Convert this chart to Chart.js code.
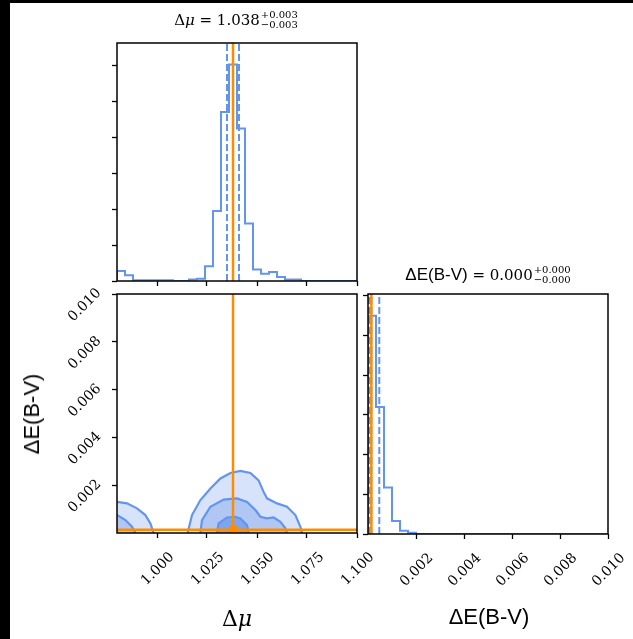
<!DOCTYPE html>
<html>
<head>
<meta charset="utf-8">
<script src="https://cdn.jsdelivr.net/npm/chart.js@4.4.0/dist/chart.umd.min.js"></script>
<style>
html, body { margin: 0; padding: 0; background: #fff; }
body { width: 633px; height: 639px; position: relative; overflow: hidden; }
.strip-top { position: absolute; left: 0; top: 0; width: 633px; height: 3px; background: #000; }
.strip-left { position: absolute; left: 0; top: 0; width: 10px; height: 639px; background: #000; }
canvas.layer { position: absolute; left: 0; top: 0; }
.ttl { position: absolute; transform: translateX(-50%); white-space: nowrap; display: flex; align-items: center;
       font-family: 'DejaVu Serif', serif; font-size: 15px; color: #000; }
.ttl .pm { display: inline-flex; flex-direction: column; font-size: 10px; line-height: 10px; margin-left: 1px; }
.sans { font-family: 'Liberation Sans', sans-serif; }
.lbl { position: absolute; white-space: nowrap; color: #000; transform: translate(-50%, -50%); }
.lbl.serif { font-family: 'DejaVu Serif', serif; font-size: 22px; }
.lbl.sans { font-family: 'Liberation Sans', sans-serif; font-size: 22px; }
.lbl.rot { transform: translate(-50%, -50%) rotate(-90deg); }
</style>
</head>
<body>
<div class="strip-top"></div>
<div class="strip-left"></div>

<canvas id="cMu" class="layer" width="633" height="639"></canvas>
<canvas id="c2d" class="layer" width="633" height="639"></canvas>
<canvas id="cEbv" class="layer" width="633" height="639"></canvas>

<div class="ttl" style="left:236px; top:10px;"><span>Δ<i>μ</i> = 1.038</span><span class="pm"><span>+0.003</span><span>−0.003</span></span></div>
<div class="ttl" style="left:488px; top:265px;"><span><span class="sans" style="font-size:17px">ΔE(B-V)</span> = 0.000</span><span class="pm"><span>+0.000</span><span>−0.000</span></span></div>

<div class="lbl serif" style="left:237px; top:618px;">Δ<i>μ</i></div>
<div class="lbl sans" style="left:489px; top:617px;">ΔE(B-V)</div>
<div class="lbl sans rot" style="left:32px; top:414px;">ΔE(B-V)</div>

<script>
// Données
const MU_RANGE = [0.98, 1.10];
const EBV_RANGE = [0, 0.010];

// histogramme de Δμ (30 classes)
const MU_HIST = [0.28, 0.16, 0.02, 0.02, 0.02, 0.02, 0.02, 0, 0, 0.04,
                 0.065, 0.41, 1.95, 4.70, 6.02, 4.24, 1.60, 0.32, 0.20, 0.25,
                 0.11, 0.04, 0.04, 0, 0, 0, 0, 0, 0, 0];
// histogramme de ΔE(B-V) (30 classes)
const EBV_HIST = [5.5, 3.2, 1.17, 0.33, 0.08, 0.03, 0, 0, 0, 0,
                  0, 0, 0, 0, 0, 0, 0, 0, 0, 0,
                  0, 0, 0, 0, 0, 0, 0, 0, 0, 0];

const MU_TICKS = [1.000, 1.025, 1.050, 1.075, 1.100];
const EBV_TICKS = [0.002, 0.004, 0.006, 0.008, 0.010];
const DENS_TICKS = [0, 1, 2, 3, 4, 5, 6];

const MU_QUANTILES = [1.035, 1.038, 1.041];
const EBV_QUANTILES = [0.00005, 0.00014, 0.00047];
const TRUTH_MU = 1.038;
const TRUTH_EBV = 0.00014;

// contours 2D (x = Δμ, y = ΔE(B-V))
const CONT_OUTER_R = [[1.0153, 0], [1.0175, 0.00075], [1.0217, 0.00138], [1.0267, 0.00186], [1.0317, 0.00228],
  [1.0367, 0.00251], [1.0417, 0.0026], [1.0467, 0.00251], [1.0508, 0.0022], [1.0533, 0.00172],
  [1.055, 0.00145], [1.06, 0.00124], [1.065, 0.0011], [1.0692, 0.00075], [1.0717, 0.00026], [1.0725, 0]];
const CONT_MID_R = [[1.0217, 0], [1.0225, 0.00054], [1.0267, 0.0011], [1.0333, 0.0014], [1.04, 0.00145],
  [1.045, 0.0013], [1.0492, 0.00096], [1.0517, 0.00068], [1.055, 0.00061], [1.0583, 0.00065],
  [1.0617, 0.00047], [1.0642, 0.0002], [1.065, 0]];
const CONT_IN_R = [[1.03, 0], [1.0308, 0.0004], [1.035, 0.00065], [1.0392, 0.00068], [1.0417, 0.00061],
  [1.045, 0.00033], [1.0458, 0]];
const CONT_OUTER_L = [[0.97, 0.00135], [0.98, 0.0013], [0.985, 0.00124], [0.99, 0.00103], [0.9942, 0.00075],
  [0.9967, 0.0004], [0.9983, 0]];
const CONT_MID_L = [[0.97, 0.0009], [0.98, 0.00075], [0.9842, 0.00054], [0.9875, 0.00026], [0.9892, 0]];

const BLUE = '#6495ed';
const ORANGE = '#ff8c00';
const FILL_OUT = '#d7e3fa';
const FILL_MID = '#b0c7f4';
const FILL_IN = '#7fa5ef';

const W = 633, H = 639;
const AXIS_SIZE = 80;

// cadre complet autour de chaque panneau
const framePlugin = {
    id: 'frame',
    afterDatasetsDraw(chart) {
        const { ctx, chartArea: a } = chart;
        ctx.save();
        ctx.strokeStyle = '#000';
        ctx.lineWidth = 1.5;
        ctx.strokeRect(a.left, a.top, a.right - a.left, a.bottom - a.top);
        ctx.restore();
    }
};

function stepPoints(range, counts) {
    const w = (range[1] - range[0]) / counts.length;
    const pts = [{ x: range[0], y: 0 }];
    counts.forEach((c, i) => pts.push({ x: range[0] + i * w, y: c }));
    pts.push({ x: range[1], y: counts[counts.length - 1] });
    return pts;
}

function vline(x, y0, y1, color, width, dash, order) {
    return { data: [{ x, y: y0 }, { x, y: y1 }], showLine: true, borderColor: color, borderWidth: width,
             borderDash: dash || [], pointRadius: 0, order: order, clip: 0 };
}

function hline(y, x0, x1, color, width, order) {
    return { data: [{ x: x0, y }, { x: x1, y }], showLine: true, borderColor: color, borderWidth: width,
             pointRadius: 0, order: order, clip: 0 };
}

function contour(pts, fill, order) {
    return { data: pts.map(p => ({ x: p[0], y: p[1] })), showLine: true, borderColor: BLUE, borderWidth: 2.2,
             backgroundColor: fill, fill: 'origin', pointRadius: 0, order: order, clip: 0 };
}

function axis(min, max, ticks, showLabels, extraTicks) {
    return {
        type: 'linear', min, max,
        afterBuildTicks: s => { s.ticks = ticks.map(v => ({ value: v })); },
        afterFit: s => { if (s.isHorizontal()) s.height = AXIS_SIZE; else s.width = AXIS_SIZE; },
        border: { display: false },
        grid: { display: true, drawOnChartArea: false, drawTicks: true, tickLength: 5, tickColor: '#000', tickWidth: 1.3 },
        ticks: Object.assign({
            display: showLabels, autoSkip: false, minRotation: 45, maxRotation: 45, color: '#000',
            font: { family: 'DejaVu Serif', size: 14 }, padding: 2,
            callback: v => Number(v).toFixed(3)
        }, extraTicks || {})
    };
}

function padFor(area) {
    return { left: area.l - AXIS_SIZE, top: area.t, right: W - area.r, bottom: H - area.b - AXIS_SIZE };
}

function makeChart(id, area, datasets, xAxis, yAxis) {
    return new Chart(document.getElementById(id), {
        type: 'scatter',
        data: { datasets },
        options: {
            responsive: false, animation: false,
            layout: { padding: padFor(area), autoPadding: false },
            plugins: { legend: { display: false }, tooltip: { enabled: false } },
            scales: { x: xAxis, y: yAxis }
        },
        plugins: [framePlugin]
    });
}

const MU_YMAX = 6.62;
const EBV_YMAX = 6.05;

// panneau 1 : histogramme de Δμ
makeChart('cMu', { l: 117, t: 43, r: 357, b: 281 }, [
    { data: stepPoints(MU_RANGE, MU_HIST), showLine: true, stepped: true, borderColor: BLUE, borderWidth: 2,
      pointRadius: 0, order: 5, clip: 0 },
    ...MU_QUANTILES.map(q => vline(q, 0, MU_YMAX, BLUE, 2, [7, 3], 4)),
    vline(TRUTH_MU, 0, MU_YMAX, ORANGE, 2.5, null, 1)
], axis(MU_RANGE[0], MU_RANGE[1], MU_TICKS, false), axis(0, MU_YMAX, DENS_TICKS, false));

// panneau 3 : contours 2D
makeChart('c2d', { l: 117, t: 294, r: 357, b: 533 }, [
    contour(CONT_OUTER_R, FILL_OUT, 10),
    contour(CONT_OUTER_L, FILL_OUT, 10),
    contour(CONT_MID_R, FILL_MID, 9),
    contour(CONT_MID_L, FILL_MID, 9),
    contour(CONT_IN_R, FILL_IN, 8),
    vline(TRUTH_MU, EBV_RANGE[0], EBV_RANGE[1], ORANGE, 2.5, null, 2),
    hline(TRUTH_EBV, MU_RANGE[0], MU_RANGE[1], ORANGE, 2.5, 2),
    { data: [{ x: TRUTH_MU, y: TRUTH_EBV }], pointStyle: 'rect', pointRadius: 5.5, backgroundColor: ORANGE,
      borderWidth: 0, order: 1, clip: 0 }
], axis(MU_RANGE[0], MU_RANGE[1], MU_TICKS, true, { labelOffset: 15, padding: 11 }),
   axis(EBV_RANGE[0], EBV_RANGE[1], EBV_TICKS, true, { labelOffset: -3, padding: 13 }));

// panneau 4 : histogramme de ΔE(B-V)
makeChart('cEbv', { l: 368, t: 294, r: 608, b: 534 }, [
    { data: stepPoints(EBV_RANGE, EBV_HIST), showLine: true, stepped: true, borderColor: BLUE, borderWidth: 2,
      pointRadius: 0, order: 5, clip: 0 },
    ...EBV_QUANTILES.map(q => vline(q, 0, EBV_YMAX, BLUE, 2, [7, 3], 4)),
    vline(TRUTH_EBV, 0, EBV_YMAX, ORANGE, 2.5, null, 1)
], axis(EBV_RANGE[0], EBV_RANGE[1], EBV_TICKS, true, { labelOffset: 15, padding: 11 }),
   axis(0, EBV_YMAX, DENS_TICKS, false));
</script>
</body>
</html>
